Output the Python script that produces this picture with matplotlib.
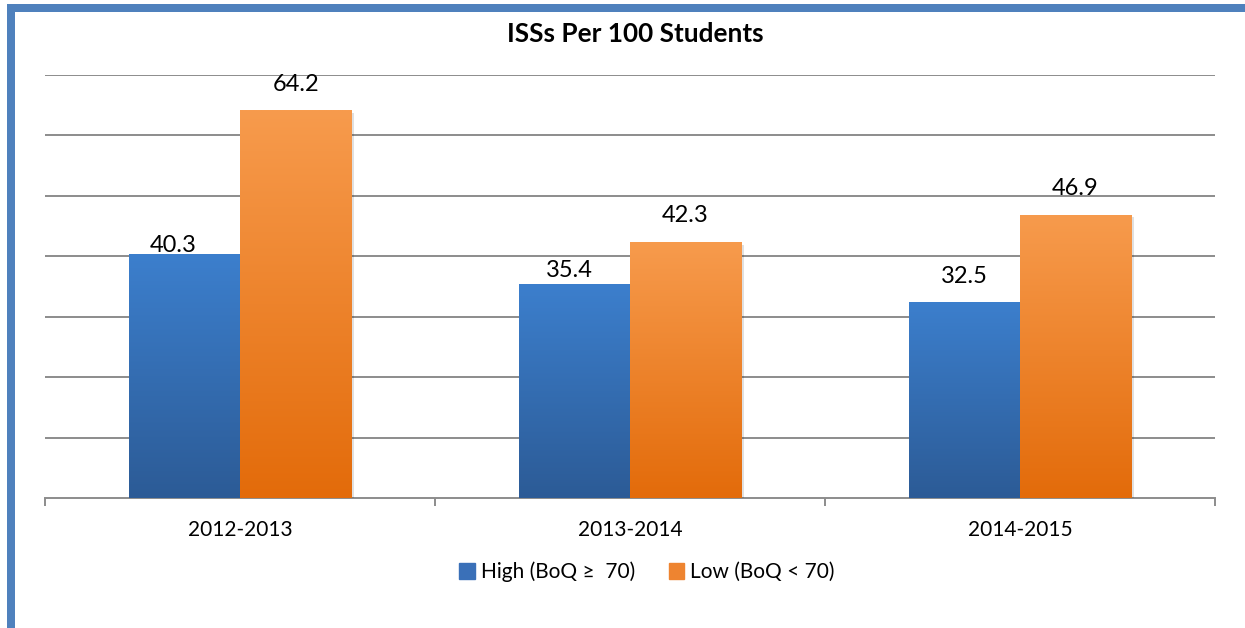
import numpy as np
import matplotlib.pyplot as plt
from matplotlib.patches import Rectangle, Patch
import matplotlib.patheffects as pe

# data
years = ['2012-2013', '2013-2014', '2014-2015']
high = [40.3, 35.4, 32.5]
low = [64.2, 42.3, 46.9]
series_names = ['High (BoQ \u2265  70)', 'Low (BoQ < 70)']

# label nudges in pixels (dx, gap above bar top), as placed in the original
high_nudge = [(-11, 2), (-5, 7), (0, 19)]
low_nudge = [(0, 19), (0, 20), (0, 20)]

plt.rcParams['font.family'] = ['Lato', 'DejaVu Sans']

W, H = 1245, 628
fig = plt.figure(figsize=(W / 100, H / 100), dpi=100)
ax = fig.add_axes([45 / W, 1 - 498 / H, 1170 / W, 423 / H])

# blue frame on the left and top
border = '#4F81BD'
fig.add_artist(Rectangle((7 / W, 0), 8 / W, 1 - 4 / H, transform=fig.transFigure,
                         color=border, lw=0))
fig.add_artist(Rectangle((7 / W, 1 - 12 / H), 1 - 7 / W, 8 / H, transform=fig.transFigure,
                         color=border, lw=0))

x = np.arange(len(years))
w = 0.285
shadow = [pe.SimplePatchShadow(offset=(2, -2), shadow_rgbFace='k', alpha=0.12), pe.Normal()]
b1 = ax.bar(x - w / 2, high, w, color='#3A70B8', zorder=3, path_effects=shadow)
b2 = ax.bar(x + w / 2, low, w, color='#EE8430', zorder=3, path_effects=shadow)


# vertical gradient inside every bar, like the Excel fill
def gradient(bars, top, bottom):
    c_top = np.array(plt.matplotlib.colors.to_rgb(top))
    c_bot = np.array(plt.matplotlib.colors.to_rgb(bottom))
    t = np.linspace(0, 1, 256)[:, None]
    img = (c_top * (1 - t) + c_bot * t)[:, None, :]
    for b in bars:
        x0, y0 = b.get_x(), b.get_y()
        im = ax.imshow(img, extent=[x0, x0 + b.get_width(), y0, y0 + b.get_height()],
                       aspect='auto', origin='upper', zorder=3.5, interpolation='bilinear')
        im.set_clip_path(b)


gradient(b1, '#3C7FCD', '#2C5B96')
gradient(b2, '#F79B4D', '#E36B0A')

# value labels
px = 72 / 100
for bars, vals, nud in [(b1, high, high_nudge), (b2, low, low_nudge)]:
    for b, v, (dx, gap) in zip(bars, vals, nud):
        ax.annotate(f'{v:.1f}', (b.get_x() + b.get_width() / 2, v),
                    xytext=(dx * px, gap * px), textcoords='offset points',
                    ha='center', va='baseline', fontsize=17, color='#000000', zorder=5)

ax.set_xlim(-0.5, 2.5)
ax.set_ylim(0, 70)
ax.set_yticks(np.arange(10, 80, 10))
ax.yaxis.grid(True, color='#8C8C8C', lw=1.4, zorder=1)
ax.tick_params(axis='y', length=0, labelleft=False)
for s in ['left', 'top', 'right']:
    ax.spines[s].set_visible(False)
ax.spines['bottom'].set_color('#8C8C8C')
ax.spines['bottom'].set_linewidth(1.4)
ax.set_xticks(x, years)
ax.set_xticks([-0.5, 0.5, 1.5, 2.5], minor=True)
ax.tick_params(axis='x', which='major', length=0, labelsize=15, pad=16)
ax.tick_params(axis='x', which='minor', length=5.5, width=1.4, color='#8C8C8C')

fig.text(635 / W, 1 - 34 / H, 'ISSs Per 100 Students', ha='center', va='center',
         fontsize=18.8, fontweight='bold')

handles = [Patch(color='#3A70B8'), Patch(color='#EE8430')]
fig.legend(handles, series_names, loc='center', bbox_to_anchor=(647 / W, 1 - 572 / H),
           ncol=2, frameon=False, fontsize=15, handlelength=0.75, handleheight=0.75,
           handletextpad=0.3, columnspacing=1.6)

fig.savefig('out.png', dpi=100)
